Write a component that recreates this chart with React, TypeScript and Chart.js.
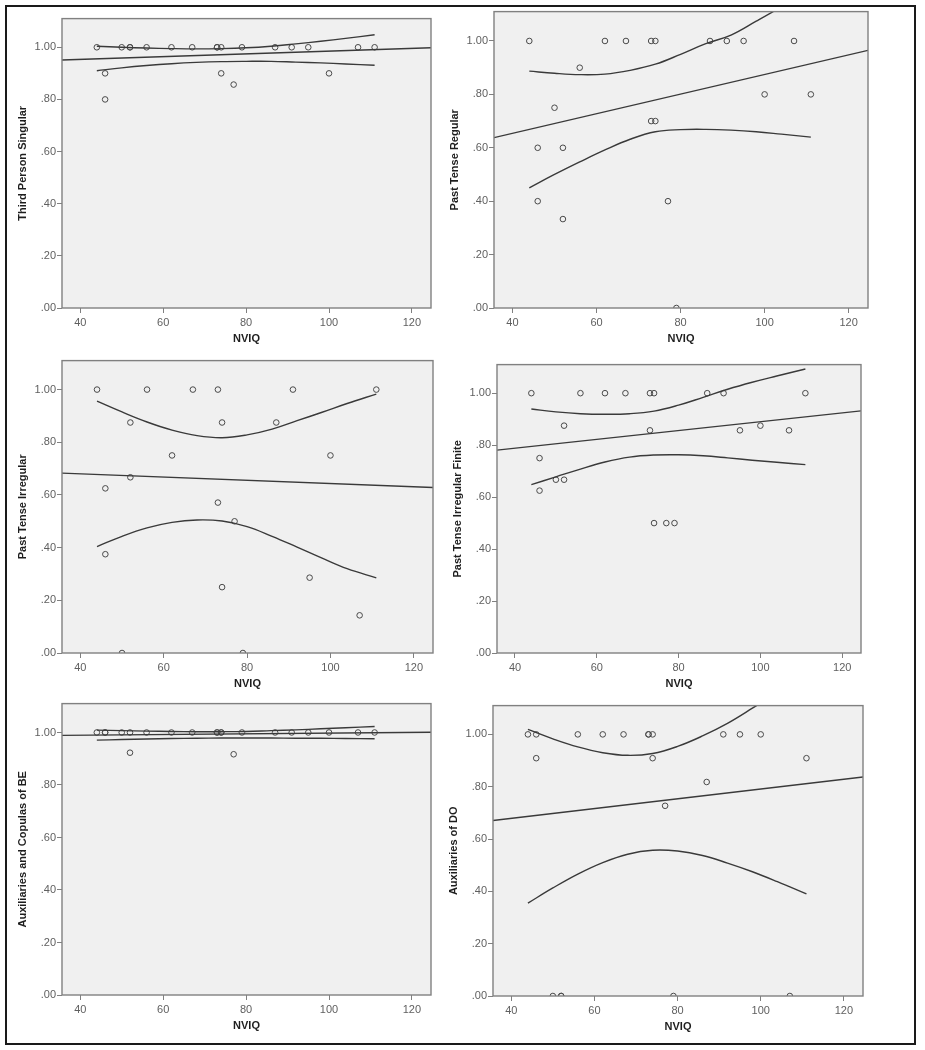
import React, { useEffect, useRef } from "react";
import { Chart, registerables } from "chart.js";

Chart.register(...registerables);

// ---------- data ----------
const NVIQ = [44, 46, 46, 50, 52, 52, 56, 62, 67, 73, 73, 74, 74, 77, 79, 87, 91, 95, 100, 107, 111];
const X_TICKS = [40, 60, 80, 100, 120];
const Y_TICKS = [0, 0.2, 0.4, 0.6, 0.8, 1.0];
const X_MIN = 35.6;
const X_MAX = 124.6;
const Y_MIN = 0;
const Y_MAX = 1.11;
const FIT_X = [35.6, 124.6];
const CI_X = [44, 50, 56, 62, 68, 74, 80, 86, 92, 98, 104, 111];
const X_TITLE = "NVIQ";

const THIRD_PERSON = [1, 0.9, 0.8, 1, 1, 1, 1, 1, 1, 1, 1, 1, 0.9, 0.857, 1, 1, 1, 1, 0.9, 1, 1];
const THIRD_PERSON_FIT = [0.951, 0.998];
const THIRD_PERSON_UPPER = [1.004, 1.0, 0.997, 0.995, 0.994, 0.995, 0.998, 1.004, 1.013, 1.023, 1.034, 1.048];
const THIRD_PERSON_LOWER = [0.91, 0.921, 0.93, 0.937, 0.942, 0.945, 0.946, 0.946, 0.943, 0.94, 0.936, 0.931];

const PAST_REGULAR = [1, 0.6, 0.4, 0.75, 0.6, 0.333, 0.9, 1, 1, 1, 0.7, 1, 0.7, 0.4, 0, 1, 1, 1, 0.8, 1, 0.8];
const PAST_REGULAR_FIT = [0.638, 0.965];
const PAST_REGULAR_UPPER = [0.887, 0.879, 0.874, 0.876, 0.89, 0.913, 0.95, 0.99, 1.022, 1.074, 1.128, 1.195];
const PAST_REGULAR_LOWER = [0.45, 0.5, 0.547, 0.592, 0.632, 0.66, 0.668, 0.669, 0.666, 0.66, 0.651, 0.64];

const PAST_IRREGULAR = [1, 0.625, 0.375, 0, 0.875, 0.667, 1, 0.75, 1, 1, 0.571, 0.875, 0.25, 0.5, 0, 0.875, 1, 0.286, 0.75, 0.143, 1];
const PAST_IRREGULAR_FIT = [0.683, 0.628];
const PAST_IRREGULAR_UPPER = [0.956, 0.915, 0.877, 0.846, 0.825, 0.817, 0.828, 0.85, 0.882, 0.914, 0.947, 0.983];
const PAST_IRREGULAR_LOWER = [0.404, 0.443, 0.475, 0.496, 0.505, 0.501, 0.48, 0.443, 0.402, 0.36, 0.32, 0.285];

const PAST_IRR_FINITE = [1, 0.75, 0.625, 0.667, 0.875, 0.667, 1, 1, 1, 1, 0.857, 1, 0.5, 0.5, 0.5, 1, 1, 0.857, 0.875, 0.857, 1];
const PAST_IRR_FINITE_FIT = [0.781, 0.932];
const PAST_IRR_FINITE_UPPER = [0.939, 0.928, 0.921, 0.919, 0.921, 0.931, 0.954, 0.984, 1.015, 1.042, 1.066, 1.093];
const PAST_IRR_FINITE_LOWER = [0.648, 0.678, 0.708, 0.735, 0.754, 0.762, 0.763, 0.759, 0.751, 0.742, 0.734, 0.725];

const BE = [1, 1, 1, 1, 1, 0.923, 1, 1, 1, 1, 1, 1, 1, 0.917, 1, 1, 1, 1, 1, 1, 1];
const BE_FIT = [0.989, 1.001];
const BE_UPPER = [1.009, 1.007, 1.005, 1.004, 1.003, 1.003, 1.004, 1.007, 1.01, 1.014, 1.018, 1.023];
const BE_LOWER = [0.971, 0.973, 0.975, 0.977, 0.978, 0.979, 0.979, 0.979, 0.978, 0.978, 0.977, 0.976];

const DO = [1, 1, 0.909, 0, 0, 0, 1, 1, 1, 1, 1, 1, 0.909, 0.727, 0, 0.818, 1, 1, 1, 0, 0.909];
const DO_FIT = [0.671, 0.837];
const DO_UPPER = [1.019, 0.983, 0.952, 0.93, 0.92, 0.927, 0.954, 0.994, 1.042, 1.1, 1.161, 1.234];
const DO_LOWER = [0.355, 0.413, 0.466, 0.51, 0.542, 0.557, 0.554, 0.537, 0.508, 0.475, 0.437, 0.39];

const PANELS = [
  { title: "Third Person Singular", y: THIRD_PERSON, fit: THIRD_PERSON_FIT, upper: THIRD_PERSON_UPPER, lower: THIRD_PERSON_LOWER },
  { title: "Past Tense Regular", y: PAST_REGULAR, fit: PAST_REGULAR_FIT, upper: PAST_REGULAR_UPPER, lower: PAST_REGULAR_LOWER },
  { title: "Past Tense Irregular", y: PAST_IRREGULAR, fit: PAST_IRREGULAR_FIT, upper: PAST_IRREGULAR_UPPER, lower: PAST_IRREGULAR_LOWER },
  { title: "Past Tense Irregular Finite", y: PAST_IRR_FINITE, fit: PAST_IRR_FINITE_FIT, upper: PAST_IRR_FINITE_UPPER, lower: PAST_IRR_FINITE_LOWER },
  { title: "Auxiliaries and Copulas of BE", y: BE, fit: BE_FIT, upper: BE_UPPER, lower: BE_LOWER },
  { title: "Auxiliaries of DO", y: DO, fit: DO_FIT, upper: DO_UPPER, lower: DO_LOWER },
];

// ---------- layout / style ----------
const PLOT_BOXES = [
  { left: 62, top: 17, right: 431, bottom: 308 },
  { left: 494, top: 10, right: 868, bottom: 308 },
  { left: 62, top: 359, right: 433, bottom: 653 },
  { left: 497, top: 363, right: 861, bottom: 653 },
  { left: 62, top: 702, right: 431, bottom: 995 },
  { left: 493, top: 704, right: 863, bottom: 996 },
];
const Y_AXIS_W = 52;
const X_AXIS_H = 44;
const PAD_TOP = 6;
const PAD_RIGHT = 14;
const FONT_FAMILY = "'Liberation Sans', Arial, Helvetica, sans-serif";
const TICK_COLOR = "#5f5f5f";
const TITLE_COLOR = "#1e1e1e";
const AXIS_COLOR = "#808080";
const PLOT_BG = "#f0f0f0";
const LINE_COLOR = "#3a3a3a";
const POINT_COLOR = "#4a4a4a";

const plotFrame = {
  id: "plotFrame",
  beforeDatasetsDraw(chart: any) {
    const { ctx, chartArea: a } = chart;
    ctx.save();
    ctx.fillStyle = PLOT_BG;
    ctx.fillRect(a.left, a.top, a.right - a.left, a.bottom - a.top);
    ctx.restore();
  },
  afterDraw(chart: any) {
    const { ctx, chartArea: a } = chart;
    ctx.save();
    ctx.strokeStyle = AXIS_COLOR;
    ctx.lineWidth = 1.4;
    ctx.strokeRect(a.left, a.top, a.right - a.left, a.bottom - a.top);
    ctx.restore();
  },
};

function formatY(v: number) {
  const s = Number(v).toFixed(2);
  return s.startsWith("0") ? s.slice(1) : s;
}

function Panel({ index }: { index: number }) {
  const ref = useRef<HTMLCanvasElement | null>(null);
  const spec = PANELS[index];
  const box = PLOT_BOXES[index];
  const left = box.left - Y_AXIS_W;
  const top = box.top - PAD_TOP;
  const width = box.right - box.left + Y_AXIS_W + PAD_RIGHT;
  const height = box.bottom - box.top + PAD_TOP + X_AXIS_H;

  useEffect(() => {
    if (!ref.current) return;
    const lineDs = (xs: number[], ys: number[], tension: number) => ({
      type: "scatter" as const,
      data: xs.map((x, i) => ({ x, y: ys[i] })),
      showLine: true,
      tension,
      pointRadius: 0,
      pointHoverRadius: 0,
      borderColor: LINE_COLOR,
      borderWidth: 1.4,
      backgroundColor: "transparent",
      clip: 0,
      order: 1,
    });
    const chart = new Chart(ref.current, {
      type: "scatter",
      data: {
        datasets: [
          {
            data: NVIQ.map((x, i) => ({ x, y: spec.y[i] })),
            pointRadius: 2.8,
            pointBorderWidth: 1,
            pointBorderColor: POINT_COLOR,
            pointBackgroundColor: "rgba(0,0,0,0)",
            borderColor: POINT_COLOR,
            backgroundColor: "rgba(0,0,0,0)",
            order: 2,
          } as any,
          lineDs(FIT_X, spec.fit, 0),
          lineDs(CI_X, spec.upper, 0.4),
          lineDs(CI_X, spec.lower, 0.4),
        ],
      },
      options: {
        responsive: false,
        animation: false,
        devicePixelRatio: 1,
        events: [],
        layout: { padding: { top: PAD_TOP, right: PAD_RIGHT, left: 0, bottom: 0 } },
        plugins: {
          legend: { display: false },
          tooltip: { enabled: false },
        },
        scales: {
          x: {
            type: "linear",
            min: X_MIN,
            max: X_MAX,
            afterBuildTicks: (s: any) => {
              s.ticks = X_TICKS.map((v) => ({ value: v }));
            },
            afterFit: (s: any) => {
              s.height = X_AXIS_H;
            },
            border: { display: false },
            grid: { drawOnChartArea: false, drawTicks: true, tickLength: 5, color: AXIS_COLOR, lineWidth: 1 },
            ticks: {
              color: TICK_COLOR,
              font: { family: FONT_FAMILY, size: 11 },
              padding: 3,
              maxRotation: 0,
              autoSkip: false,
            },
            title: {
              display: true,
              text: X_TITLE,
              color: TITLE_COLOR,
              font: { family: FONT_FAMILY, size: 11, weight: "bold" },
              padding: { top: 0, bottom: 6.4 },
            },
          },
          y: {
            type: "linear",
            min: Y_MIN,
            max: Y_MAX,
            afterBuildTicks: (s: any) => {
              s.ticks = Y_TICKS.map((v) => ({ value: v }));
            },
            afterFit: (s: any) => {
              s.width = Y_AXIS_W;
            },
            border: { display: false },
            grid: { drawOnChartArea: false, drawTicks: true, tickLength: 5, color: AXIS_COLOR, lineWidth: 1 },
            ticks: {
              color: TICK_COLOR,
              font: { family: FONT_FAMILY, size: 11 },
              padding: 1,
              autoSkip: false,
              callback: (v: any) => formatY(Number(v)),
            },
            title: {
              display: true,
              text: spec.title,
              color: TITLE_COLOR,
              font: { family: FONT_FAMILY, size: 11, weight: "bold" },
              padding: { top: 6.4, bottom: 0 },
            },
          },
        },
      } as any,
      plugins: [plotFrame],
    });
    return () => chart.destroy();
  }, [index]);

  return (
    <canvas
      ref={ref}
      width={width}
      height={height}
      style={{ position: "absolute", left, top, width, height, display: "block" }}
    />
  );
}

export default function App() {
  return (
    <div
      style={{
        position: "absolute",
        left: 0,
        top: 0,
        width: 925,
        height: 1050,
        background: "#ffffff",
        overflow: "hidden",
      }}
    >
      <div
        style={{
          position: "absolute",
          left: 5,
          top: 5,
          width: 911,
          height: 1040,
          border: "2px solid #1a1a1a",
          boxSizing: "border-box",
        }}
      />
      {PANELS.map((_, i) => (
        <Panel key={i} index={i} />
      ))}
    </div>
  );
}
